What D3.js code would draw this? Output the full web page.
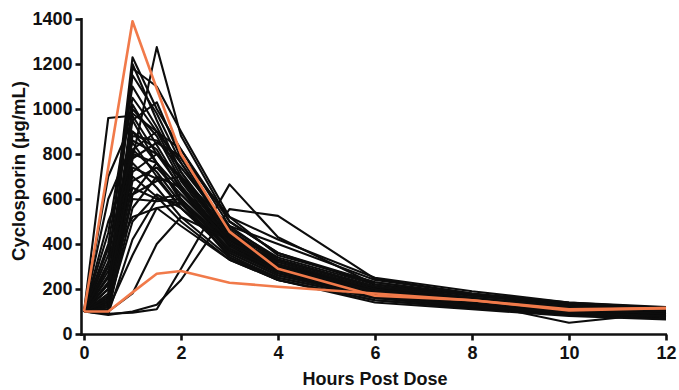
<!DOCTYPE html>
<html>
<head>
<meta charset="utf-8">
<script src="https://cdn.jsdelivr.net/npm/d3@7"></script>
<style>
  body { margin: 0; background: #fff; }
  svg { display: block; }
  text { font-family: "Liberation Sans", Arial, sans-serif; font-weight: bold; fill: #111; }
</style>
</head>
<body>
<svg id="chart" width="679" height="390"></svg>
<script>
// sampling times (hours post dose)
const hours = [0, 0.5, 1, 1.5, 2, 3, 4, 6, 8, 10, 12];

// individual subject profiles (black)
const subjects = [
  [100, 960, 970, 800, 650, 420, 300, 200, 150, 120, 100],
  [100, 300, 1230, 1000, 820, 480, 330, 210, 160, 120, 100],
  [100, 250, 780, 1275, 880, 500, 360, 220, 170, 130, 110],
  [100, 180, 1200, 950, 720, 420, 300, 190, 140, 110, 90],
  [100, 150, 1180, 1100, 900, 520, 350, 230, 170, 130, 105],
  [100, 400, 1050, 900, 700, 430, 320, 200, 150, 110, 95],
  [100, 120, 1000, 880, 680, 400, 290, 180, 140, 100, 85],
  [100, 200, 950, 1030, 780, 450, 330, 210, 160, 120, 100],
  [100, 350, 900, 820, 640, 390, 280, 180, 130, 100, 80],
  [100, 130, 880, 860, 740, 470, 340, 220, 170, 130, 110],
  [100, 600, 850, 700, 560, 360, 260, 170, 130, 100, 85],
  [100, 110, 820, 900, 760, 440, 310, 200, 150, 110, 90],
  [100, 260, 800, 760, 600, 380, 270, 170, 130, 95, 80],
  [100, 500, 760, 650, 520, 340, 250, 160, 120, 90, 75],
  [100, 140, 720, 800, 690, 420, 300, 190, 145, 110, 95],
  [100, 320, 700, 610, 500, 330, 240, 150, 115, 85, 70],
  [100, 120, 680, 740, 620, 400, 290, 180, 135, 100, 85],
  [100, 220, 650, 600, 580, 370, 270, 170, 125, 95, 80],
  [100, 160, 600, 590, 600, 400, 280, 175, 130, 100, 85],
  [100, 700, 950, 760, 600, 370, 270, 175, 135, 105, 90],
  [100, 100, 560, 700, 650, 430, 310, 200, 150, 115, 95],
  [100, 280, 520, 560, 480, 330, 240, 150, 115, 85, 75],
  [100, 130, 500, 620, 560, 380, 280, 180, 140, 105, 90],
  [100, 90, 420, 600, 620, 420, 300, 190, 140, 105, 90],
  [100, 110, 350, 560, 580, 400, 300, 200, 150, 110, 95],
  [100, 90, 95, 110, 290, 665, 430, 220, 160, 120, 100],
  [100, 85, 100, 130, 240, 555, 525, 245, 180, 130, 110],
  [100, 100, 180, 400, 520, 420, 330, 210, 140, 50, 95],
  [100, 450, 1100, 920, 720, 440, 320, 200, 150, 115, 95],
  [100, 200, 1150, 980, 760, 460, 330, 210, 155, 120, 100],
  [100, 170, 1020, 840, 660, 400, 290, 185, 140, 105, 90],
  [100, 140, 980, 900, 820, 500, 360, 230, 175, 135, 110],
  [100, 230, 900, 760, 640, 410, 300, 190, 145, 110, 90],
  [100, 300, 860, 800, 700, 480, 400, 240, 180, 140, 115],
  [100, 120, 780, 850, 790, 520, 420, 250, 190, 140, 120],
  [100, 380, 820, 720, 580, 350, 250, 160, 120, 90, 75],
  [100, 150, 620, 680, 700, 450, 330, 210, 160, 120, 100],
  [100, 200, 740, 690, 560, 360, 260, 165, 125, 95, 80],
  [100, 95, 620, 760, 590, 340, 240, 140, 110, 80, 65]
];

// highlighted subjects (orange)
const highlighted = [
  [100, 740, 1390, 1090, 800, 455, 290, 170, 150, 105, 115],
  [100, 100, 185, 268, 280, 228, 210, 180, 150, 110, 115]
];

const yTicks = [0, 200, 400, 600, 800, 1000, 1200, 1400];
const xTicks = [0, 2, 4, 6, 8, 10, 12];

const svg = d3.select('#chart');

const x = d3.scaleLinear().domain([0, 12]).range([84, 666]);
const y = d3.scaleLinear().domain([0, 1400]).range([334, 19]);

const line = d3.line()
  .x((d, i) => x(hours[i]))
  .y((d) => y(d));

svg.append('g')
  .selectAll('path')
  .data(subjects)
  .join('path')
  .attr('d', line)
  .attr('fill', 'none')
  .attr('stroke', '#0d0d0d')
  .attr('stroke-width', 2.1)
  .attr('stroke-linejoin', 'round');

svg.append('g')
  .selectAll('path')
  .data(highlighted)
  .join('path')
  .attr('d', line)
  .attr('fill', 'none')
  .attr('stroke', '#f17a4a')
  .attr('stroke-width', 2.6)
  .attr('stroke-linejoin', 'round');

// axes
const yAxis = svg.append('g')
  .attr('transform', 'translate(81.5,0)')
  .call(d3.axisLeft(y).tickValues(yTicks).tickSize(6).tickPadding(3).tickFormat(d3.format('d')));

const xAxis = svg.append('g')
  .attr('transform', 'translate(0,334.5)')
  .call(d3.axisBottom(x).tickValues(xTicks).tickSize(6).tickPadding(6).tickFormat(d3.format('d')));

xAxis.select('.domain').attr('d', 'M80.2,0H667');
yAxis.select('.domain').attr('d', 'M0,' + (y(1400) - 1) + 'V' + 336);

[xAxis, yAxis].forEach((a) => {
  a.select('.domain').attr('stroke', '#111').attr('stroke-width', 2.6);
  a.selectAll('.tick line').attr('stroke', '#111').attr('stroke-width', 2.6);
  a.selectAll('.tick text')
    .style('font-size', '18px')
    .style('font-weight', 'bold')
    .attr('fill', '#111');
});

svg.append('text')
  .attr('x', (x(0) + x(12)) / 2)
  .attr('y', 385)
  .attr('text-anchor', 'middle')
  .style('font-size', '18px')
  .text('Hours Post Dose');

svg.append('text')
  .attr('transform', 'translate(25,171) rotate(-90)')
  .attr('text-anchor', 'middle')
  .style('font-size', '18.5px')
  .text('Cyclosporin (μg/mL)');
</script>
</body>
</html>
